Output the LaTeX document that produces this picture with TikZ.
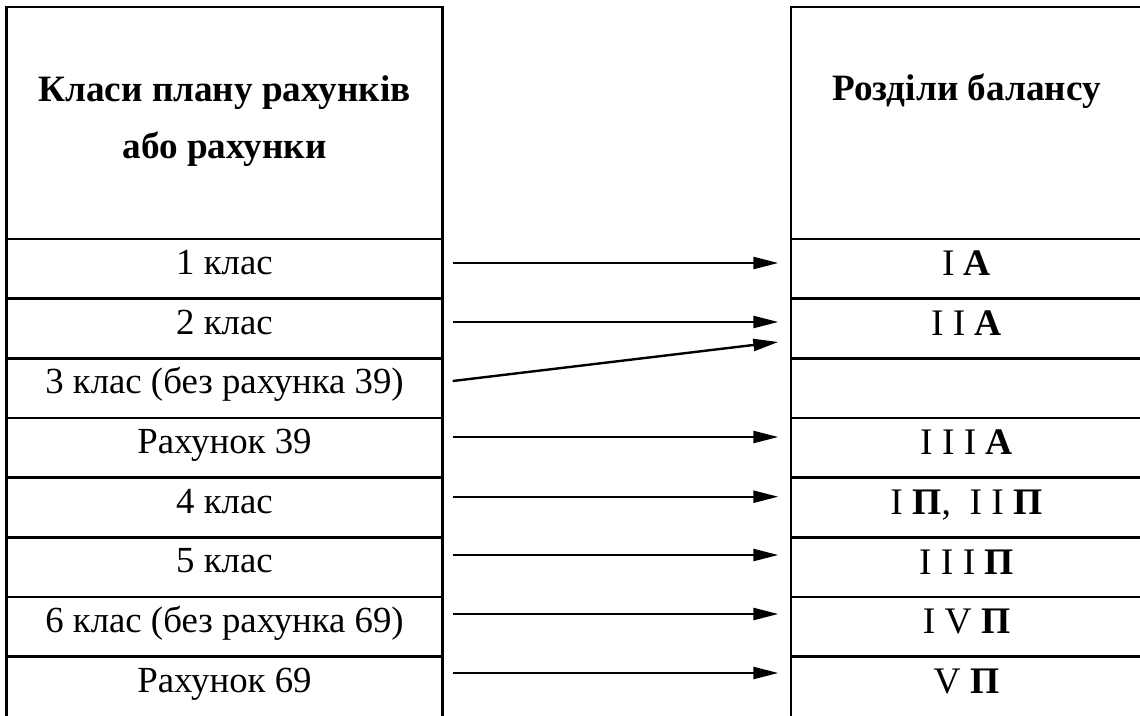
\documentclass[tikz,border=0pt]{standalone}
\usepackage{fontspec}
\setmainfont{Liberation Serif}
\usetikzlibrary{arrows.meta,calc}
\begin{document}
\begin{tikzpicture}[x=1pt,y=-1pt,
  frame/.style={draw=black, line width=2.4pt, rectangle, inner sep=0pt, outer sep=0pt, anchor=north west},
  lcell/.style={frame, minimum width=436pt, minimum height=59.67pt,
    text height=35.5pt, text depth=24.17pt, font=\fontsize{36.8}{40}\selectfont},
  rcell/.style={frame, minimum width=351pt, minimum height=59.67pt,
    text height=36.7pt, text depth=22.97pt, font=\fontsize{37.5}{40}\selectfont},
  % the last rows run on below the lower edge of the picture
  openrow/.style={minimum height=90pt, text depth=54pt},
  head/.style={align=center, anchor=base, inner sep=0pt, font=\bfseries\fontsize{37.2}{56.5}\selectfont},
  link/.style={line width=2.4pt, -{Triangle[length=25pt,width=12pt]}}]
\useasboundingbox (0,0) rectangle (1140,715);
\clip (0,0) rectangle (1140,715);

% header cells
\node[frame, minimum width=436pt, minimum height=232pt] (lh) at (6.5,7) {};
\node[frame, minimum width=351pt, minimum height=232pt] (rh) at (791,7) {};
% base of a two-line node is the baseline of its last line
\node[head] (lht) at ($(lh.north)+(0,151)$) {Класи плану рахунків\\або рахунки};
\node[head] (rht) at ($(rh.north)+(0,93)$) {Розділи балансу};

% left column: classes of the chart of accounts
\node[lcell] (l1) at (lh.south west) {1 клас};
\node[lcell] (l2) at (l1.south west) {2 клас};
\node[lcell] (l3) at (l2.south west) {3 клас (без рахунка 39)};
\node[lcell] (l4) at (l3.south west) {Рахунок 39};
\node[lcell] (l5) at (l4.south west) {4 клас};
\node[lcell] (l6) at (l5.south west) {5 клас};
\node[lcell] (l7) at (l6.south west) {6 клас (без рахунка 69)};
\node[lcell,openrow] (l8) at (l7.south west) {Рахунок 69};

% right column: balance sheet sections
\node[rcell] (r1) at (rh.south west) {I \textbf{А}};
\node[rcell] (r2) at (r1.south west) {I I \textbf{А}};
\node[rcell] (r3) at (r2.south west) {};
\node[rcell] (r4) at (r3.south west) {I I I \textbf{А}};
\node[rcell] (r5) at (r4.south west) {I \textbf{П},~ I I \textbf{П}};
\node[rcell] (r6) at (r5.south west) {I I I \textbf{П}};
\node[rcell] (r7) at (r6.south west) {I V \textbf{П}};
\node[rcell,openrow] (r8) at (r7.south west) {V \textbf{П}};

% arrow end points
\coordinate (s1) at (452.7,263);   \coordinate (t1) at (778.3,263);
\coordinate (s2) at (452.7,322);   \coordinate (t2) at (778.3,322);
\coordinate (s3) at (452.7,381);   \coordinate (t3) at (778.3,342);
\coordinate (s4) at (452.7,437);   \coordinate (t4) at (778.3,437);
\coordinate (s5) at (452.7,496.7); \coordinate (t5) at (778.3,496.7);
\coordinate (s6) at (452.7,555);   \coordinate (t6) at (778.3,555);
\coordinate (s7) at (452.7,614);   \coordinate (t7) at (778.3,614);
\coordinate (s8) at (452.7,673);   \coordinate (t8) at (778.3,673);

\foreach \i in {1,...,8} \draw[link] (s\i) -- (t\i);
\end{tikzpicture}
\end{document}
